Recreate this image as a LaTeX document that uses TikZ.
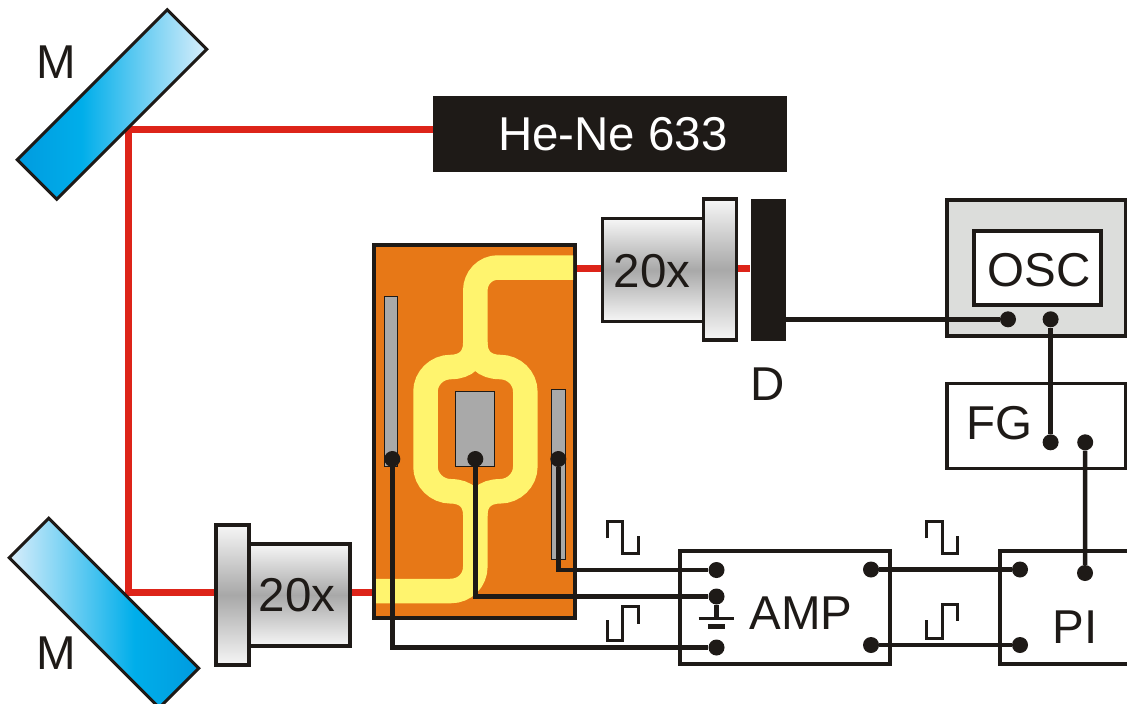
\documentclass[tikz,border=0pt]{standalone}
\usepackage{fontspec}
\setmainfont{Liberation Sans}
\usetikzlibrary{backgrounds}

\definecolor{inkblack}{HTML}{1E1A17}
\definecolor{beamred}{HTML}{DD2419}
\definecolor{chiporange}{HTML}{E77817}
\definecolor{guideyellow}{HTML}{FFF46E}
\definecolor{padgray}{HTML}{A9A9A9}
\definecolor{oscgray}{HTML}{DCDDDB}
\definecolor{lensedge}{HTML}{F6F6F6}
\definecolor{lensmid}{HTML}{A8A8A8}
\definecolor{mirrordark}{HTML}{009BDF}
\definecolor{mirrormid}{HTML}{00AEEA}
\definecolor{mirrorlight}{HTML}{D9EEFB}
\pgfdeclarehorizontalshading{mirrorblue}{100bp}{color(0bp)=(mirrordark);
  color(25bp)=(mirrordark); color(42bp)=(mirrormid);
  color(75bp)=(mirrorlight); color(100bp)=(mirrorlight)}

\tikzset{
  txt/.style={text=inkblack,inner sep=0pt,font=\fontsize{47.5}{50}\selectfont},
  box/.style={draw=inkblack,line width=3.8pt,inner sep=0pt,fill=white},
  lens/.style={box,top color=lensedge,bottom color=lensedge,middle color=lensmid},
  mirror/.style={draw=inkblack,line width=3pt,inner sep=0pt,shading=mirrorblue,
    minimum width=212pt,minimum height=56pt},
  pad/.style={draw=inkblack,line width=1pt,fill=padgray,inner sep=0pt},
  dot/.style={circle,fill=inkblack,inner sep=0pt,minimum size=16pt},
  beam/.style={draw=beamred,line width=7pt},
  wire/.style={draw=inkblack,line width=4.5pt},
  guide/.style={draw=guideyellow,line width=24.5pt},
  pulse/.style={draw=inkblack,line width=3pt}
}

\begin{document}
\begin{tikzpicture}[x=1pt,y=-1pt]
  \clip (0,0) rectangle (1127,704);

  % optical path
  \node[mirror,rotate=45] (mirrorA) at (112,104.5) {};
  \node[mirror,rotate=-45,shading angle=180] (mirrorB) at (104,613) {};
  \node[txt] (labelA) at (56,62) {M};
  \node[txt] (labelB) at (56,653) {M};
  \node[fill=inkblack,inner sep=0pt,minimum width=354pt,minimum height=76pt] (laser) at (610,134) {};
  \node[txt,text=white] (labelLaser) at (613,134) {He-Ne 633};
  \node[lens,minimum width=100.5pt,minimum height=102pt] (bodyA) at (299.5,595) {};
  \node[lens,minimum width=33pt,minimum height=140pt] (flangeA) at (232.5,595) {};
  \node[txt] (textA) at (297,595) {20x};
  \node[lens,minimum width=101pt,minimum height=103pt] (bodyB) at (653,270) {};
  \node[lens,minimum width=33pt,minimum height=141pt] (flangeB) at (720,269.5) {};
  \node[txt] (textB) at (652,271) {20x};
  \node[fill=inkblack,inner sep=0pt,minimum width=35pt,minimum height=142pt] (det) at (768,269.5) {};
  \node[txt] (labelD) at (768,384) {D};

  % chip
  \node[draw=inkblack,line width=4pt,fill=chiporange,inner sep=0pt,
    minimum width=201pt,minimum height=373pt] (chip) at (474.5,431.5) {};
  \draw[guide] (573,267.5) -- (498,267.5) .. controls (485,267.5) and (475.3,278) .. (475.3,290.5)
    -- (475.3,343) .. controls (475.3,358) and (466,367) .. (450.7,367)
    .. controls (437,367) and (425.5,378) .. (425.5,391.7) -- (425.5,466.7)
    .. controls (425.5,480) and (437,491.3) .. (450.7,491.3)
    .. controls (466,491.3) and (475.3,500) .. (475.3,515) -- (475.3,566.7)
    .. controls (475.3,580) and (465,591) .. (450.7,591) -- (376,591);
  \draw[guide] (475.3,343) .. controls (475.3,358) and (484.5,367) .. (500,367)
    .. controls (514,367) and (525.3,378) .. (525.3,391.7) -- (525.3,466.7)
    .. controls (525.3,480) and (514,491.3) .. (500,491.3)
    .. controls (484.5,491.3) and (475.3,500) .. (475.3,515);
  \node[pad,minimum width=13.5pt,minimum height=170pt] (padA) at (391.2,381.2) {};
  \node[pad,minimum width=39pt,minimum height=74.5pt] (padB) at (475.2,429) {};
  \node[pad,minimum width=13.5pt,minimum height=170pt] (padC) at (558.7,474.5) {};
  \node[dot] (dotA) at (392.3,459) {};
  \node[dot] (dotB) at (475.3,459) {};
  \node[dot] (dotC) at (558.3,459) {};

  % instruments
  \node[box,minimum width=210pt,minimum height=113pt] (amp) at (785,607.5) {};
  \node[txt] (labelAmp) at (801,613) {AMP};
  \node[box,minimum width=140pt,minimum height=113pt] (pi) at (1070,607.5) {};
  \node[txt] (labelPi) at (1075,627) {PI};
  \node[box,minimum width=179pt,minimum height=85pt] (fg) at (1036.5,426) {};
  \node[txt] (labelFg) at (999,423) {FG};
  \node[box,fill=oscgray,minimum width=179pt,minimum height=136pt] (osc) at (1036.5,268) {};
  \node[box,minimum width=127pt,minimum height=74pt] (screen) at (1037.5,268) {};
  \node[txt] (labelOsc) at (1039,270) {OSC};

  \node[dot] (ampA) at (716.5,570) {};
  \node[dot] (ampB) at (716.5,596.5) {};
  \node[dot] (ampC) at (716.5,647.5) {};
  \node[dot] (ampD) at (871,569.5) {};
  \node[dot] (ampE) at (871,645) {};
  \node[dot] (piA) at (1020,569.5) {};
  \node[dot] (piB) at (1020,645) {};
  \node[dot] (piC) at (1085,573) {};
  \node[dot] (fgA) at (1050.6,442.3) {};
  \node[dot] (fgB) at (1085.2,442.3) {};
  \node[dot] (oscA) at (1008,319.3) {};
  \node[dot] (oscB) at (1050.6,319.3) {};

  % beams go below everything else
  \coordinate (turnA) at (128,129);
  \coordinate (turnB) at (128,592);
  \coordinate (exit) at (575,268.5);
  \begin{scope}[on background layer]
    \draw[beam] (laser.west |- turnA) -- (turnA) -- (turnB) -- (turnB -| flangeA.west);
    \draw[beam] (turnB -| bodyA.east) -- (turnB -| chip.west);
    \draw[beam] (exit) -- (exit -| bodyB.west);
    \draw[beam] (exit -| flangeB.east) -- (exit -| det.west);
  \end{scope}

  % wires
  \draw[wire] (dotA) |- (ampC);
  \draw[wire] (dotB) |- (ampB);
  \draw[wire] (dotC) |- (ampA);
  \draw[wire] (ampD) -- (piA);
  \draw[wire] (ampE) -- (piB);
  \draw[wire] (det.east |- oscA) -- (oscA);
  \draw[wire] (oscB) -- (fgA);
  \draw[wire] (fgB) -- (piC);

  % ground
  \coordinate (gndA) at (716.5,618.3);
  \draw[wire] (ampB) -- (gndA);
  \draw[wire,line width=3.5pt] ([xshift=-18pt]gndA) -- ([xshift=17.5pt]gndA);
  \draw[wire] (708,626.3) -- (725,626.3);

  % pulses
  \draw[pulse] (607.3,538.3) -- ++(0,-17.3) -- ++(15.4,0) -- ++(0,32.3) -- ++(15.6,0) -- ++(0,-17.3);
  \draw[pulse] (926.7,538.3) -- ++(0,-17.3) -- ++(15.4,0) -- ++(0,32.3) -- ++(15.6,0) -- ++(0,-17.3);
  \draw[pulse] (607.3,620) -- ++(0,20) -- ++(15.4,0) -- ++(0,-33.3) -- ++(15.6,0) -- ++(0,17.3);
  \draw[pulse] (926.7,620) -- ++(0,18.3) -- ++(15.4,0) -- ++(0,-34.3) -- ++(15.6,0) -- ++(0,16.7);
\end{tikzpicture}
\end{document}
